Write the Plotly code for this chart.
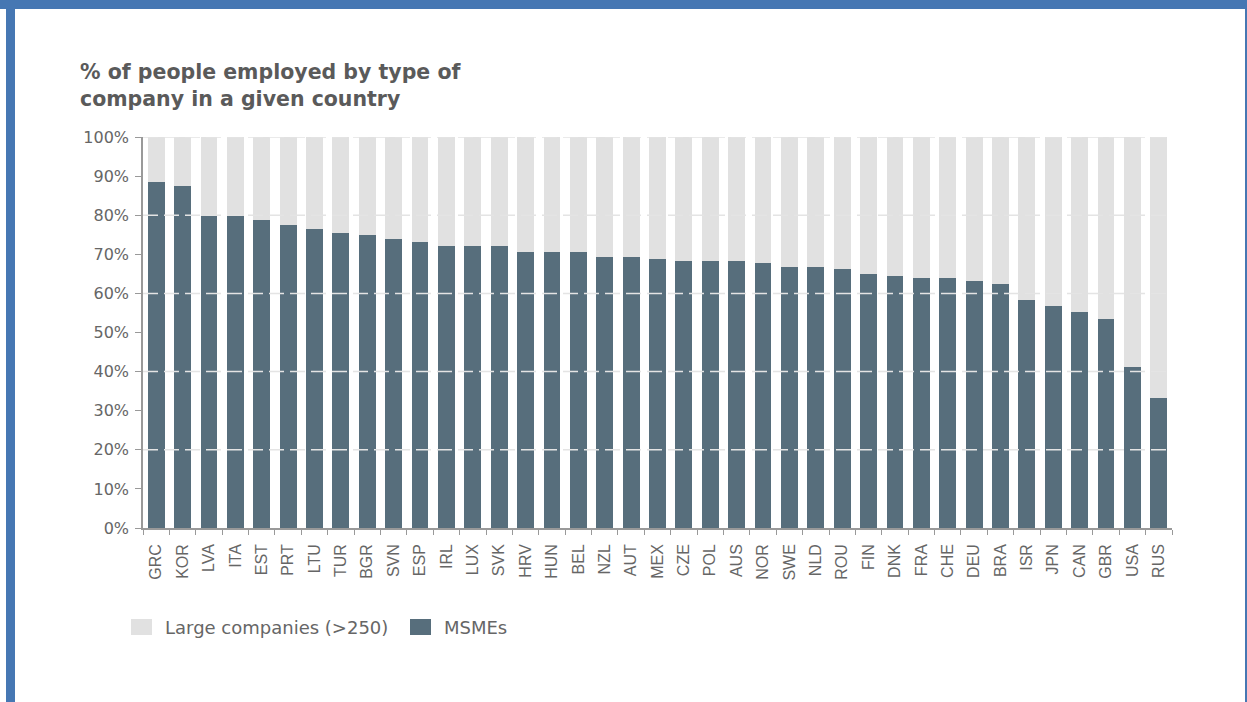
import plotly.graph_objects as go

# Share of employment by company size, per country (percent)
countries = ["GRC", "KOR", "LVA", "ITA", "EST", "PRT", "LTU", "TUR", "BGR", "SVN",
             "ESP", "IRL", "LUX", "SVK", "HRV", "HUN", "BEL", "NZL", "AUT", "MEX",
             "CZE", "POL", "AUS", "NOR", "SWE", "NLD", "ROU", "FIN", "DNK", "FRA",
             "CHE", "DEU", "BRA", "ISR", "JPN", "CAN", "GBR", "USA", "RUS"]
msme_share = [88.6, 87.5, 79.8, 79.8, 78.8, 77.6, 76.5, 75.4, 74.9, 73.8,
              73.1, 72.1, 72.1, 72.1, 70.5, 70.5, 70.5, 69.4, 69.4, 68.9,
              68.2, 68.2, 68.2, 67.7, 66.7, 66.7, 66.2, 65.0, 64.4, 63.9,
              63.9, 63.3, 62.3, 58.3, 56.7, 55.2, 53.4, 41.3, 33.2]
large_share = [round(100 - v, 1) for v in msme_share]

y_ticks = list(range(0, 101, 10))
y_tick_text = [f"{v}%" for v in y_ticks]
grid_levels = [20, 40, 60, 80, 100]

W, H = 1247, 702
ML, MR, MT, MB = 143, 75, 137, 174

DARK = "#576E7C"
LIGHT = "#E1E1E1"
TEXT = "#666666"
FRAME = "#4677B3"


def px_x(p):
    return (p - ML) / (W - ML - MR)


def px_y(p):
    return (H - MB - p) / (H - MT - MB)


fig = go.Figure()
fig.add_trace(go.Bar(x=countries, y=msme_share, name="MSMEs",
                     marker=dict(color=DARK, line=dict(width=0))))
fig.add_trace(go.Bar(x=countries, y=large_share, name="Large companies (>250)",
                     marker=dict(color=LIGHT, line=dict(width=0))))

shapes = []
# dashed guide lines drawn over the bars
for g in grid_levels:
    shapes.append(dict(type="line", xref="paper", yref="y", x0=0, x1=1, y0=g, y1=g,
                       line=dict(color="#E4E4E4", width=1.5, dash="15px,6px"),
                       layer="above"))

# page frame
for x0, y0, x1, y1 in [(6, 0, 15, H), (0, 0, W, 9), (1245, 0, W, H)]:
    shapes.append(dict(type="rect", xref="paper", yref="paper",
                       x0=px_x(x0), x1=px_x(x1), y0=px_y(y1), y1=px_y(y0),
                       fillcolor=FRAME, line=dict(width=0), layer="above"))

# legend swatches and labels
legend_items = [("Large companies (>250)", LIGHT, 131, 163),
                ("MSMEs", DARK, 410, 442)]
annotations = []
for label, color, sx, tx in legend_items:
    shapes.append(dict(type="rect", xref="paper", yref="paper",
                       x0=px_x(sx), x1=px_x(sx + 21), y0=px_y(635), y1=px_y(619),
                       fillcolor=color, line=dict(width=0), layer="above"))
    annotations.append(dict(text=label, xref="paper", yref="paper",
                            x=px_x(tx), y=px_y(627), xanchor="left", yanchor="middle",
                            showarrow=False,
                            font=dict(family="DejaVu Sans", size=18, color=TEXT)))

fig.update_layout(
    width=W, height=H,
    margin=dict(l=ML, r=MR, t=MT, b=MB, autoexpand=False),
    paper_bgcolor="white", plot_bgcolor="white",
    barmode="stack", bargap=0.36,
    shapes=shapes, annotations=annotations,
    showlegend=False,
    title=dict(text="% of people employed by type of<br>company in a given country",
               xref="container", yref="container", x=80 / W, xanchor="left",
               y=1 - 79 / H, yanchor="top",
               font=dict(family="DejaVu Sans", size=20.5, color="#5A5A5A", weight="bold")),
    xaxis=dict(type="category", tickangle=-90, tickson="boundaries",
               ticks="outside", ticklen=5, tickcolor="#999999",
               showline=True, linecolor="#999999", linewidth=1.5,
               showgrid=False, ticklabelstandoff=8,
               tickfont=dict(family="Liberation Sans", size=16, color=TEXT)),
    yaxis=dict(range=[0, 100], tickvals=y_ticks, ticktext=y_tick_text,
               ticks="outside", ticklen=6, tickcolor="#999999",
               showline=True, linecolor="#999999", linewidth=1.5,
               showgrid=False, zeroline=False, ticklabelstandoff=3,
               tickfont=dict(family="DejaVu Sans", size=16, color=TEXT)),
)

fig.write_html("out.html")
